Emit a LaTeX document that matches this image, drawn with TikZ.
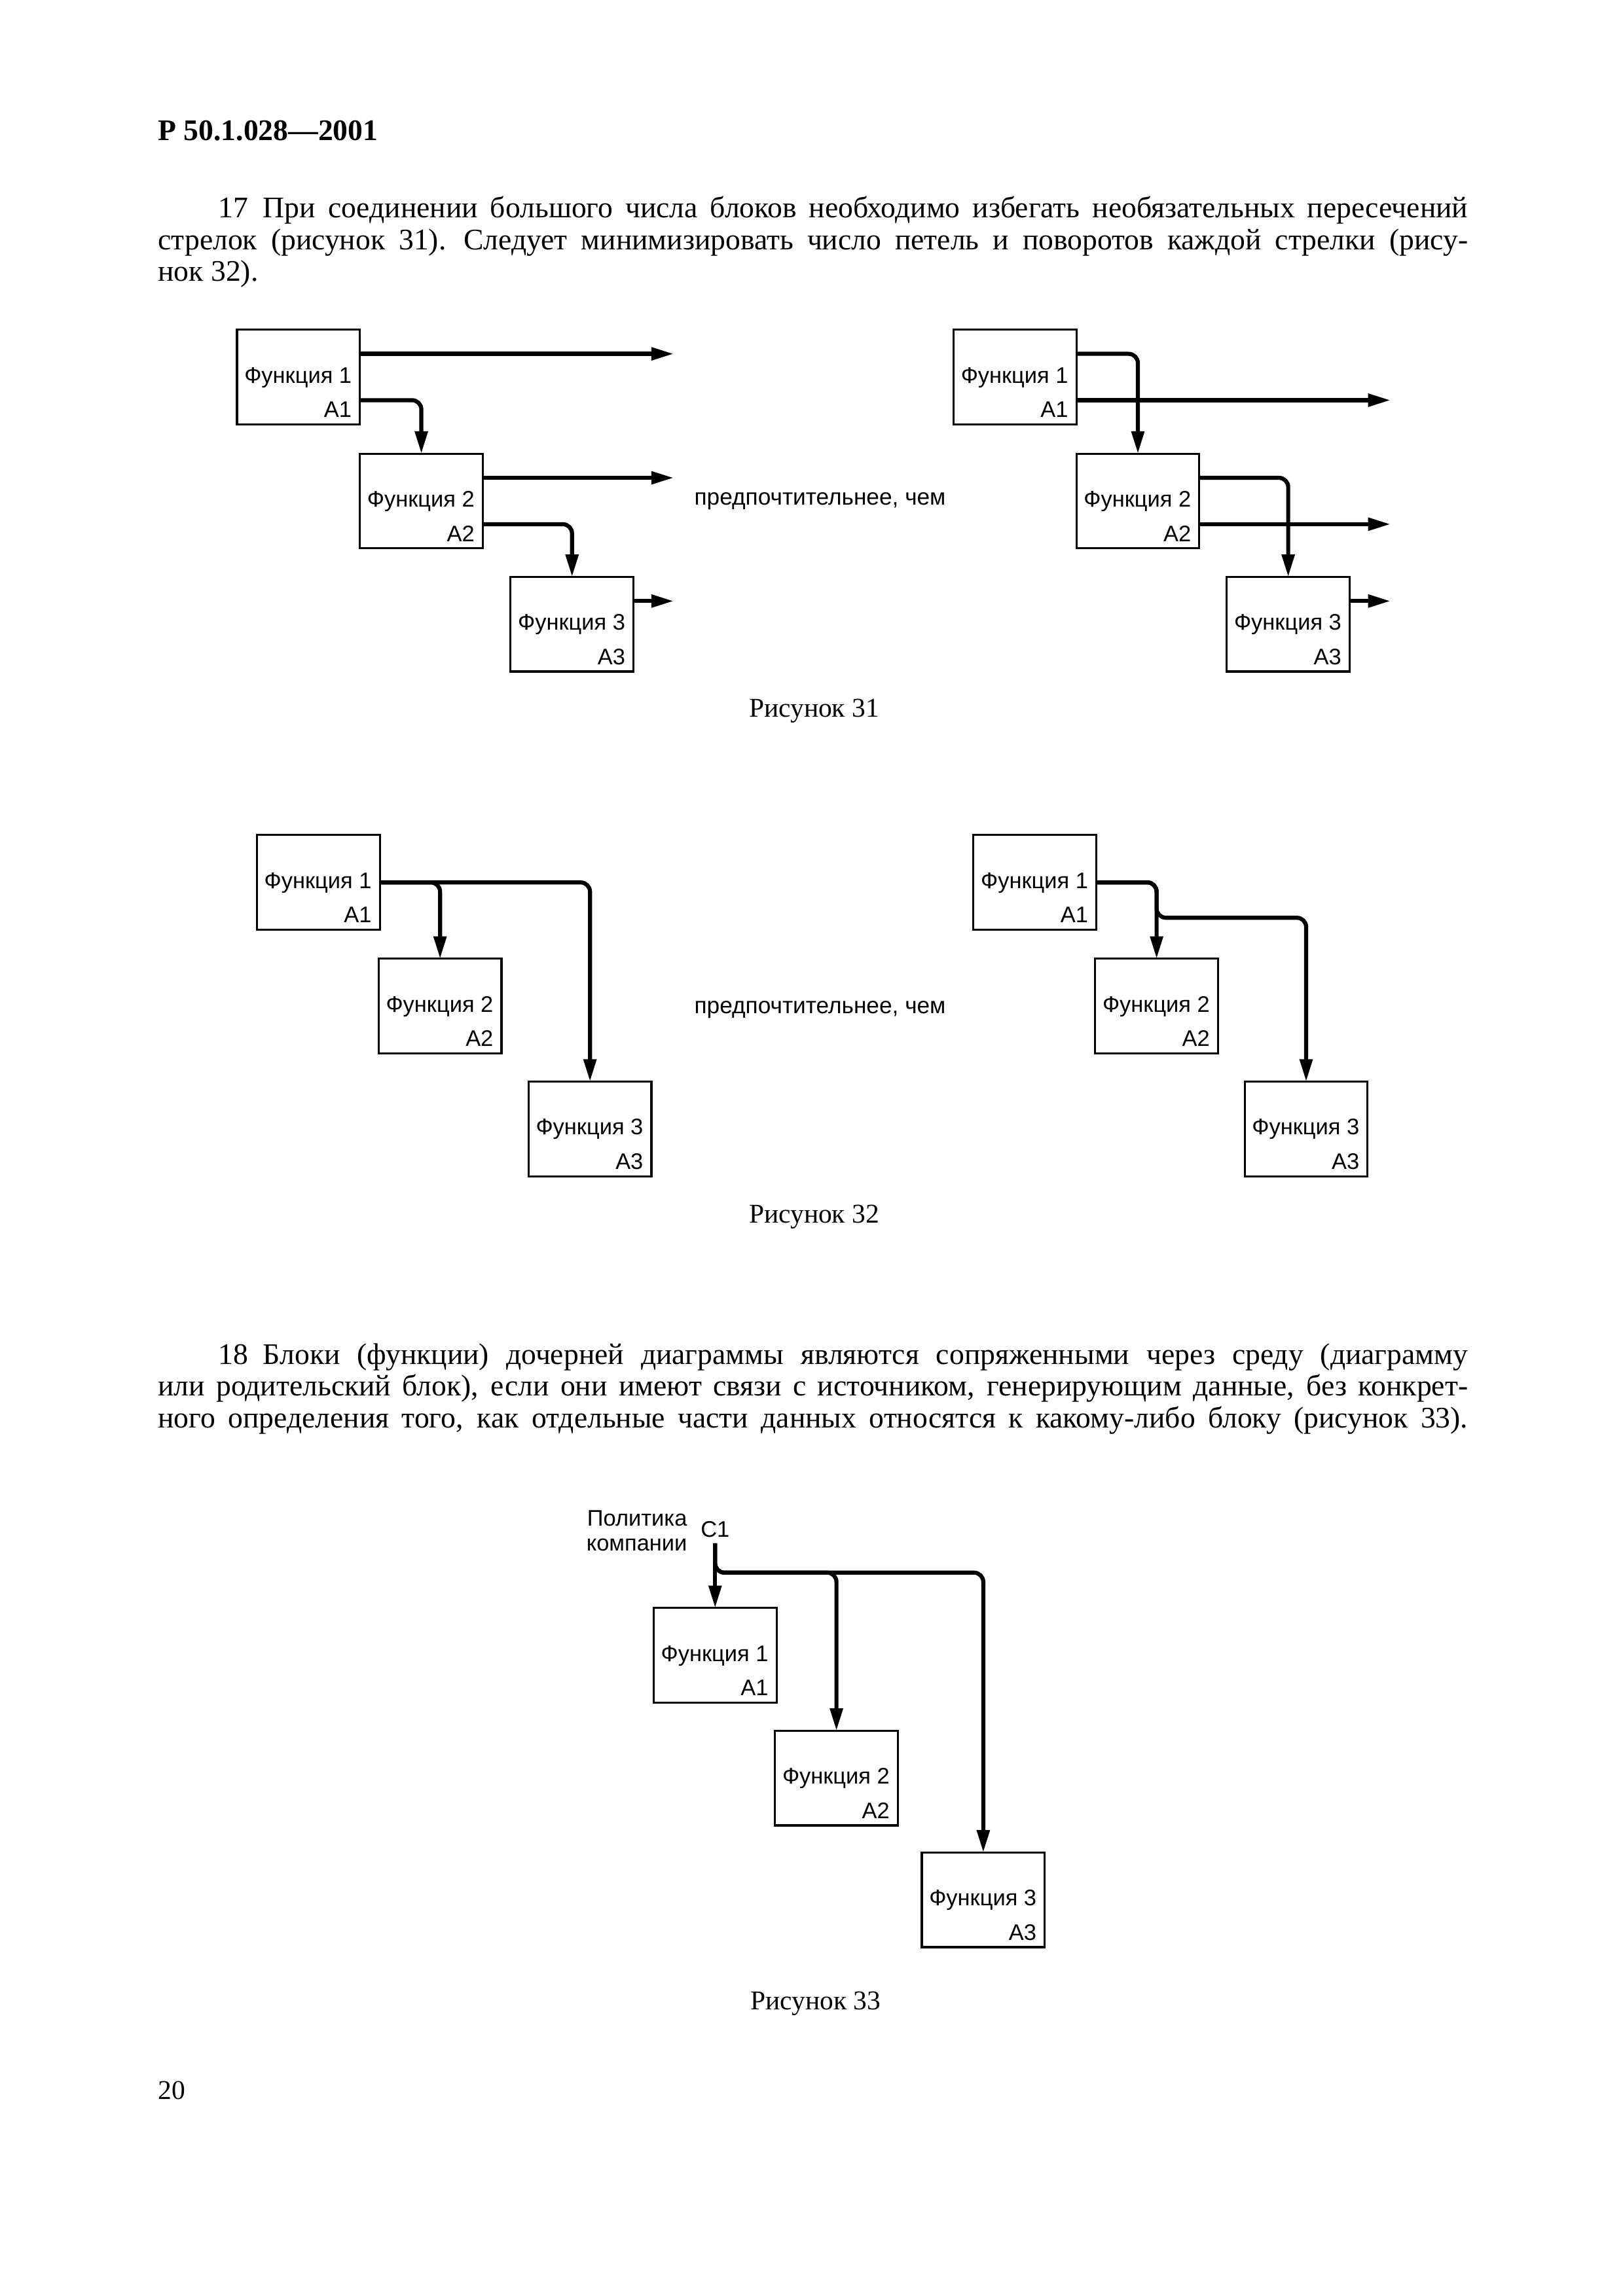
\documentclass[tikz,border=0pt]{standalone}
\usepackage{fontspec}
\setmainfont{Liberation Serif}
\newfontfamily\diagfont{Liberation Sans}
\usepackage{tikz}
\usetikzlibrary{calc}
\usetikzlibrary{positioning, arrows.meta}
\newcommand{\bodyfont}{\fontsize{11}{11.64}\selectfont\tolerance=10000\hbadness=10000\spaceskip=0.25em plus 0.5em minus 0.05em\xspaceskip=0.33em plus 0.6em minus 0.05em}
\tikzstyle{box} = [rectangle, draw=black, line width=0.75pt, minimum width=15.9mm, minimum height=12.25mm, inner sep=0pt, outer sep=0pt]
\tikzstyle{fname} = [font=\diagfont\fontsize{8.3}{9.2}\selectfont, inner sep=0pt, anchor=base east]
\tikzstyle{arrow} = [line width=1.5pt, -{Triangle[length=2.9mm,width=1.6mm]}, rounded corners=1.2mm]
\tikzstyle{bodytext} = [font=\bodyfont, inner sep=0pt, anchor=base west, text width=169.5mm, align=justify]
\tikzstyle{figcap} = [font=\fontsize{10}{12}\selectfont, inner sep=0pt, anchor=base]

\begin{document}
\begin{tikzpicture}[x=0.1905mm, y=-0.1905mm]
\fill[white] (0,0) rectangle (1102.4,1560);
\useasboundingbox (0,0) rectangle (1102.4,1560);

\node (head) [anchor=base west, inner sep=0pt, font=\bfseries\fontsize{11}{13}\selectfont] at (107,95.5) {Р 50.1.028—2001};

\node (p17) [bodytext] at (107,148) {\hspace*{7.8mm}17\enspace При соединении большого числа блоков необходимо избегать необязательных пересечений\linebreak
стрелок (рисунок 31). Следует минимизировать число петель и поворотов каждой стрелки (рису-\linebreak
нок 32).};

% figure 31
\node (a1) [box, anchor=north west] at (161,224) {};
\node (a2) [box, below right=3.8mm and 0mm of a1] {};
\node (a3) [box, below right=3.7mm and 3.6mm of a2] {};
\node (b1) [box, anchor=north west] at (647.7,224) {};
\node (b2) [box, below right=3.8mm and 0mm of b1] {};
\node (b3) [box, below right=3.7mm and 3.55mm of b2] {};
\node (pref1) [fname, anchor=base, font=\diagfont\fontsize{8.5}{9.2}\selectfont] at (557,343) {предпочтительнее, чем};
\node (cap31) [figcap] at (553,487) {Рисунок 31};

% figure 32
\node (d1) [box, anchor=north west] at (174.5,567.4) {};
\node (d2) [box, below right=3.75mm and -0.15mm of d1] {};
\node (d3) [box, below right=3.65mm and 3.5mm of d2] {};
\node (e1) [box, anchor=north west] at (661.2,567.4) {};
\node (e2) [box, below right=3.75mm and -0.15mm of e1] {};
\node (e3) [box, below right=3.65mm and 3.45mm of e2] {};
\node (pref2) [fname, anchor=base, font=\diagfont\fontsize{8.5}{9.2}\selectfont] at (557,688.5) {предпочтительнее, чем};
\node (cap32) [figcap] at (553,831) {Рисунок 32};

\node (p18) [bodytext] at (107,927) {\hspace*{7.8mm}18\enspace Блоки (функции) дочерней диаграммы являются сопряженными через среду (диаграмму\linebreak
или родительский блок), если они имеют связи с источником, генерирующим данные, без конкрет-\linebreak
ного определения того, как отдельные части данных относятся к какому-либо блоку (рисунок 33).\linebreak
\mbox{}};

% figure 33
\node (g1) [box, anchor=north west] at (444,1092.5) {};
\node (g2) [box, below right=3.65mm and -0.2mm of g1] {};
\node (g3) [box, below right=3.5mm and 3.1mm of g2] {};
\coordinate (src) at ($(g1.north)+(0,-44)$);
\coordinate (bus) at ($(g1.north)+(0,-24)$);
\node (c1) [fname, anchor=base] at ($(src)+(0,-4)$) {C1};
\node (policy) [fname, anchor=north east, align=right] at ($(src)+(-18.7,-22.8)$) {Политика\\компании};
\node (cap33) [figcap] at (554,1365.5) {Рисунок 33};

\node (page) [figcap, anchor=base west] at (107,1426.5) {20};

\foreach \n/\i in {a1/1,a2/2,a3/3,b1/1,b2/2,b3/3,d1/1,d2/2,d3/3,e1/1,e2/2,e3/3,g1/1,g2/2,g3/3}{
  \node (t\n) [fname] at ($(\n.north east)+(-1mm,-6.9mm)$) {Функция \i};
  \node (i\n) [fname] at ($(\n.south east)+(-1mm,0.9mm)$) {A\i};
}

\coordinate (endL) at (457.6,0);
\coordinate (endR) at (944.5,0);
\foreach \n in {a1,a2,a3,b1,b2,b3}{
  \coordinate (u\n) at ([yshift=3mm]\n.east);
  \coordinate (d\n) at ([yshift=-3mm]\n.east);
}

\draw [arrow] (ua1) -- (ua1 -| endL);
\draw [arrow] (da1) -| (a2.north);
\draw [arrow] (ua2) -- (ua2 -| endL);
\draw [arrow] (da2) -| (a3.north);
\draw [arrow] (ua3) -- (ua3 -| endL);

\draw [arrow] (db1) -- (db1 -| endR);
\draw [arrow] (ub1) -| (b2.north);
\draw [arrow] (db2) -- (db2 -| endR);
\draw [arrow] (ub2) -| (b3.north);
\draw [arrow] (ub3) -- (ub3 -| endR);

\draw [arrow] (d1.east) -| (d2.north);
\draw [arrow] (d1.east) -| (d3.north);

\coordinate (split) at ($(e1.east -| e2.north)+(0,24)$);
\draw [arrow] (e1.east) -| (e2.north);
\draw [arrow] (e1.east) -| (split) -| (e3.north);

\draw [arrow] (src) -- (g1.north);
\draw [arrow] (src) |- (bus -| g2.north) -- (g2.north);
\draw [arrow] (src) |- (bus -| g3.north) -- (g3.north);
\end{tikzpicture}
\end{document}
